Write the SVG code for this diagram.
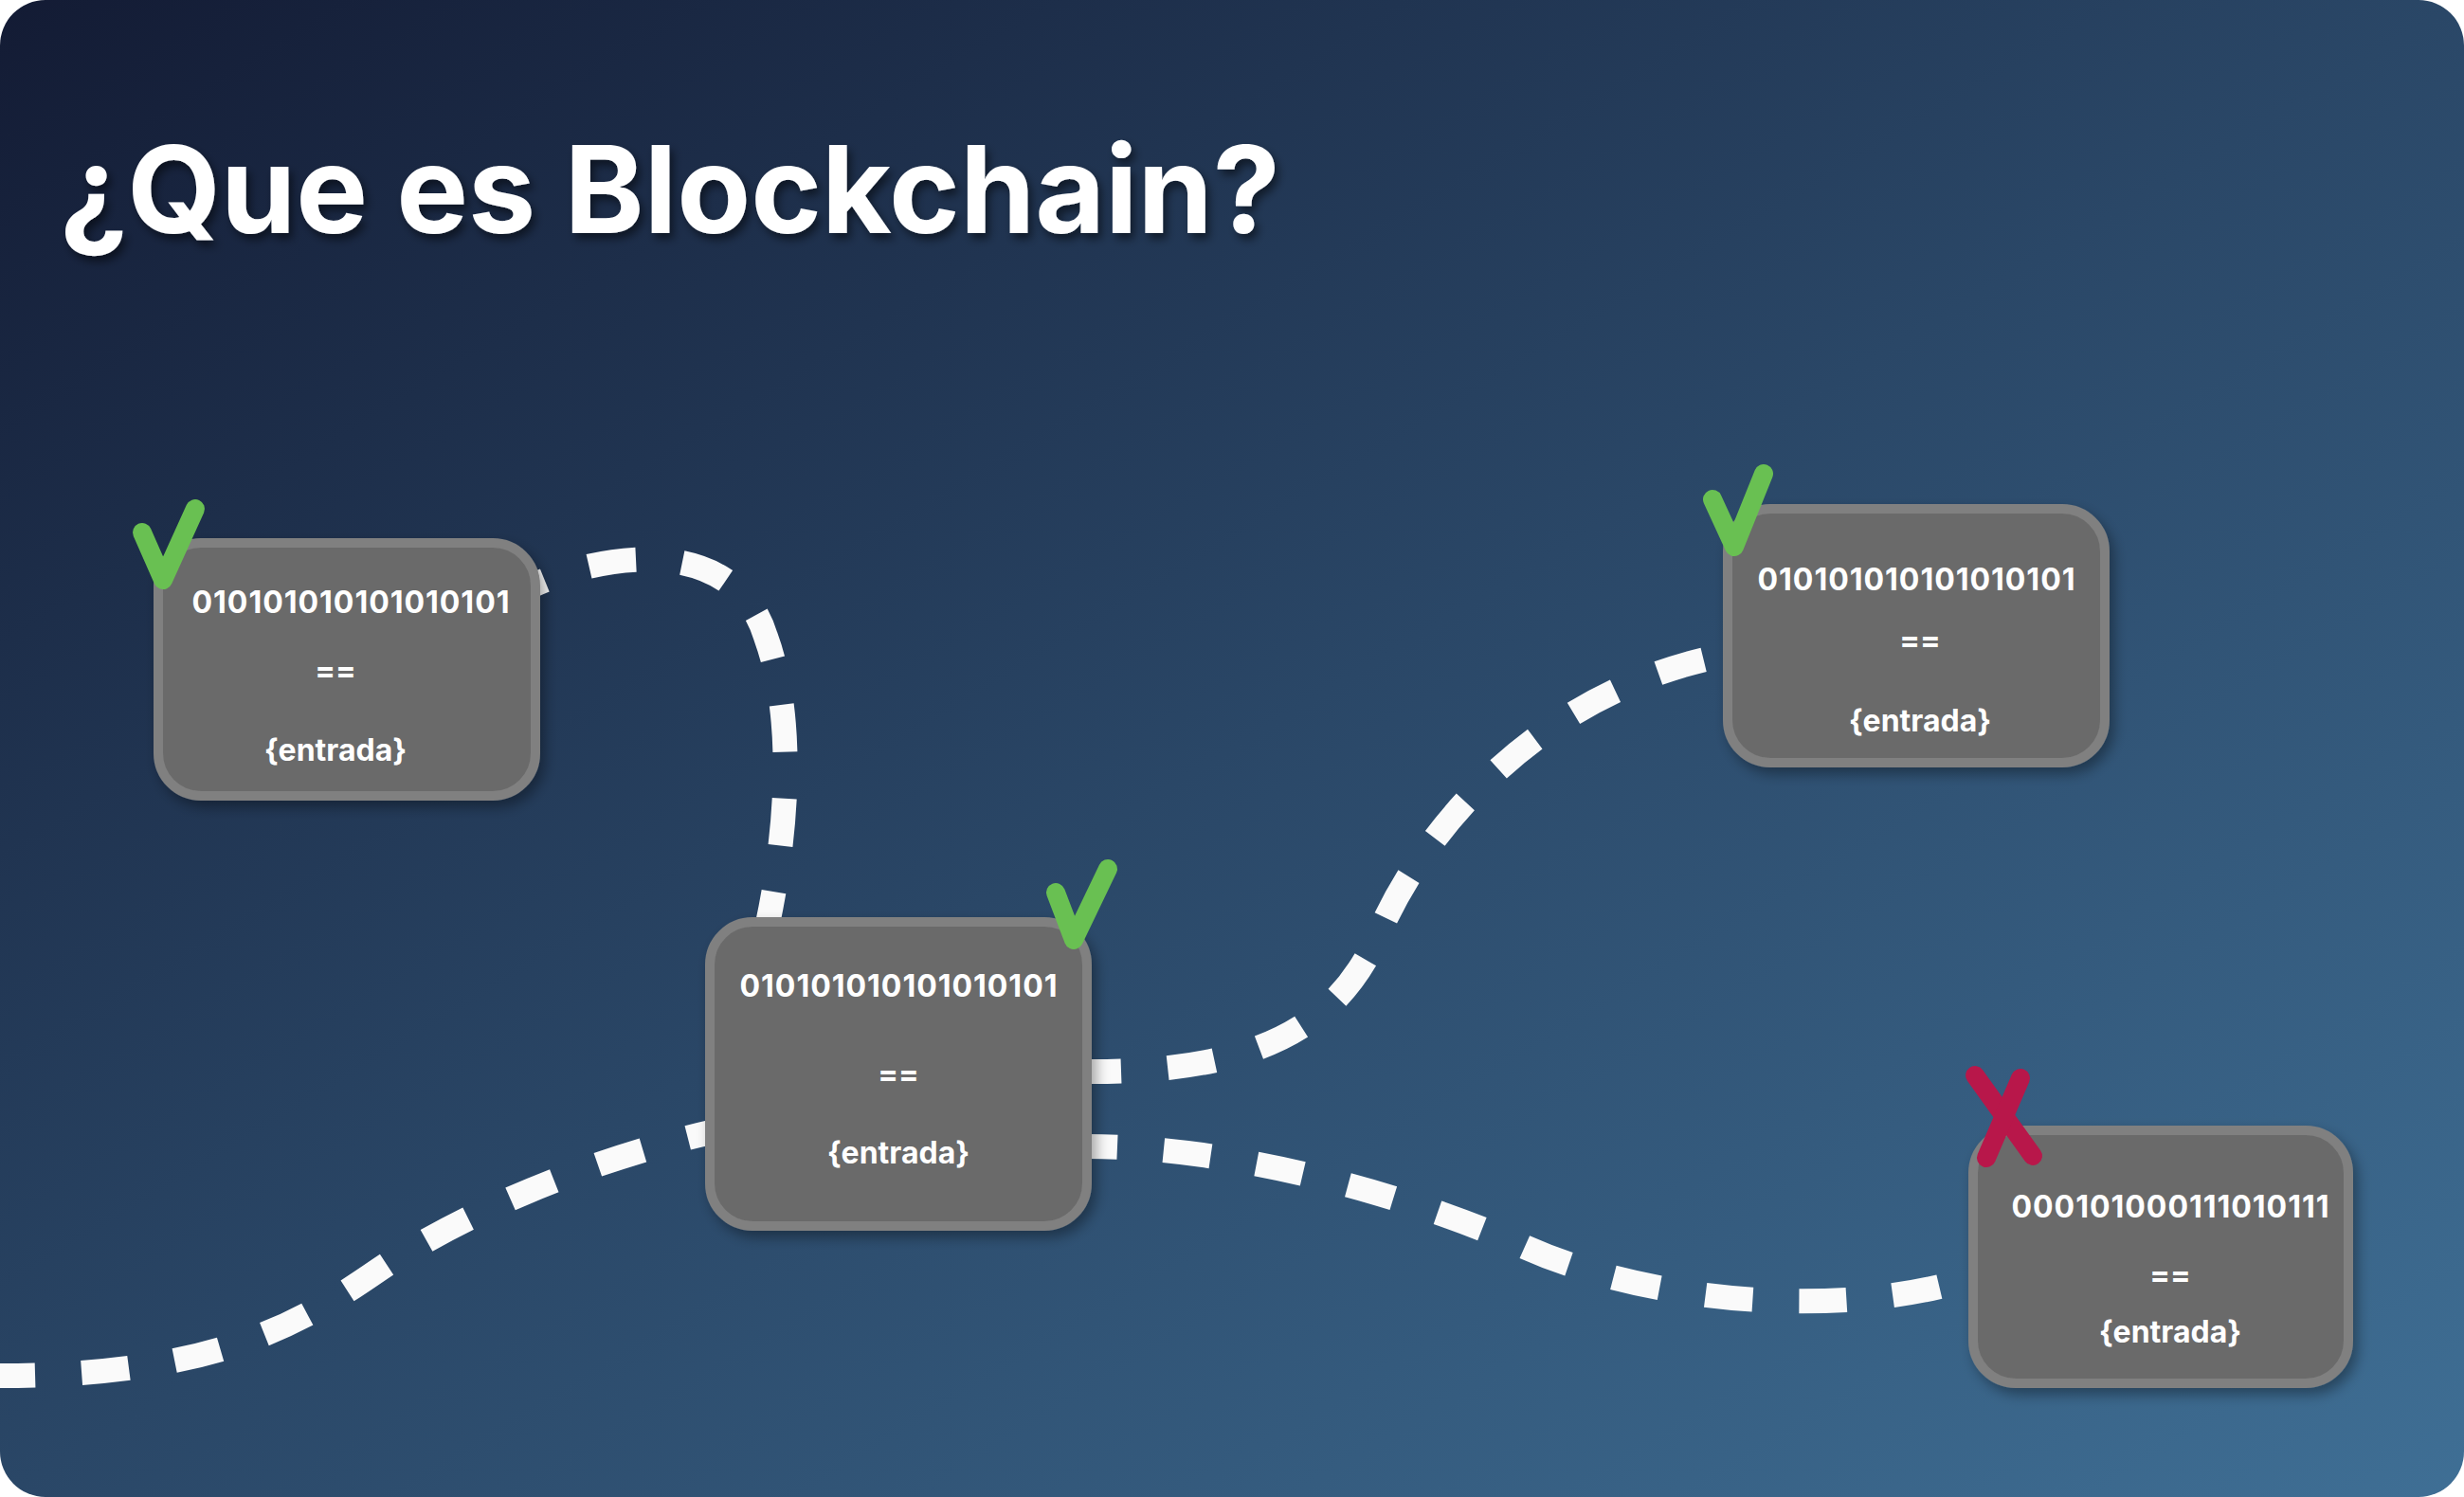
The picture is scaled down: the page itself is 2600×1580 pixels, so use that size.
<svg xmlns="http://www.w3.org/2000/svg" width="2600" height="1580" viewBox="0 0 2600 1580">
  <defs>
    <linearGradient id="bg" x1="0" y1="0" x2="1" y2="1">
      <stop offset="0" stop-color="#131b34"/>
      <stop offset="0.5" stop-color="#2a4767"/>
      <stop offset="1" stop-color="#3f6f95"/>
    </linearGradient>
    <filter id="boxShadow" x="-10%" y="-10%" width="125%" height="130%">
      <feDropShadow dx="5" dy="7" stdDeviation="7" flood-color="#000000" flood-opacity="0.35"/>
    </filter>
    <filter id="titleShadow" x="-5%" y="-20%" width="110%" height="150%">
      <feDropShadow dx="4" dy="6" stdDeviation="5" flood-color="#000000" flood-opacity="0.5"/>
    </filter>
  </defs>
  <style>
    .box { fill: #6b6b6b; stroke: #808080; stroke-width: 10; }
    .txt { font-family: Inter, "Liberation Sans", sans-serif; font-weight: 700; font-size: 32px; fill: #ffffff; text-anchor: middle; }
    .conn { fill: none; stroke: #fafafa; stroke-width: 26; stroke-dasharray: 50 49; stroke-linecap: butt; }
    .check { fill: none; stroke: #69c052; stroke-width: 20; stroke-linecap: round; stroke-linejoin: round; }
    .cross { fill: none; stroke: #b8174a; stroke-width: 20; stroke-linecap: round; }
    .title { font-family: Inter, "Liberation Sans", sans-serif; font-weight: 700; font-size: 128px; fill: #ffffff; }
  </style>

  <rect x="0" y="0" width="2600" height="1580" fill="#ffffff"/>
  <rect x="0" y="0" width="2600" height="1580" rx="48" ry="48" fill="url(#bg)"/>

  <text id="title" class="title" x="63" y="246" textLength="1288" lengthAdjust="spacingAndGlyphs" filter="url(#titleShadow)">¿Que es Blockchain?</text>

  <g id="connectors">
    <path class="conn" stroke-dashoffset="13" d="M0,1452 C230,1452 320,1395 400,1340 C490,1280 620,1225 750,1195"/>
    <path class="conn" stroke-dashoffset="36" d="M562,618 C640,582 775,565 808,672 C840,760 830,880 810,975"/>
    <path class="conn" stroke-dashoffset="15" d="M1148,1131 C1340,1132 1415,1075 1455,985 C1500,880 1620,730 1822,691"/>
    <path class="conn" stroke-dashoffset="19" d="M1148,1210 C1300,1210 1480,1260 1600,1312 C1740,1378 1950,1392 2082,1348"/>
  </g>

  <g id="node1">
    <rect class="box" x="167" y="573" width="398" height="267" rx="45" ry="45" filter="url(#boxShadow)"/>
    <text class="txt" x="370" y="647" textLength="335" lengthAdjust="spacing">010101010101010101</text>
    <text class="txt" x="354" y="719">==</text>
    <text class="txt" x="354" y="803">{entrada}</text>
    <polyline class="check" points="150,562 172,612 206,537"/>
  </g>

  <g id="node2">
    <rect class="box" x="749" y="973" width="398" height="321" rx="45" ry="45" filter="url(#boxShadow)"/>
    <text class="txt" x="948" y="1052" textLength="335" lengthAdjust="spacing">010101010101010101</text>
    <text class="txt" x="948" y="1145">==</text>
    <text class="txt" x="948" y="1228">{entrada}</text>
    <polyline class="check" points="1114,942 1133,992 1169,917"/>
  </g>

  <g id="node3">
    <rect class="box" x="1823" y="537" width="398" height="268" rx="45" ry="45" filter="url(#boxShadow)"/>
    <text class="txt" x="2022" y="623" textLength="335" lengthAdjust="spacing">010101010101010101</text>
    <text class="txt" x="2026" y="687">==</text>
    <text class="txt" x="2026" y="772">{entrada}</text>
    <polyline class="check" points="1807,527 1830,577 1861,500"/>
  </g>

  <g id="node4">
    <rect class="box" x="2082" y="1193" width="396" height="267" rx="45" ry="45" filter="url(#boxShadow)"/>
    <text class="txt" x="2290" y="1285" textLength="335" lengthAdjust="spacing">000101000111010111</text>
    <text class="txt" x="2290" y="1357">==</text>
    <text class="txt" x="2290" y="1417">{entrada}</text>
    <line class="cross" x1="2084" y1="1135" x2="2145" y2="1220"/>
    <line class="cross" x1="2132" y1="1138" x2="2096" y2="1222"/>
  </g>
</svg>
